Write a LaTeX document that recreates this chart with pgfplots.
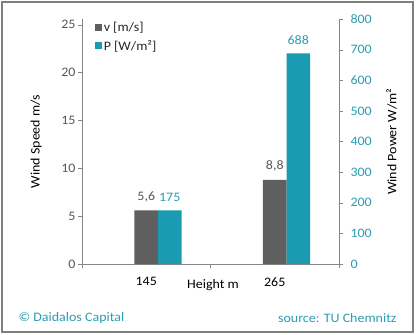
\documentclass[border=0pt]{standalone}
\usepackage{pgfplots}
\pgfplotsset{compat=1.18}
\usepackage{fontspec}
\setmainfont{Carlito}[FakeStretch=1.08]
\definecolor{barg}{HTML}{5F5F5F}
\definecolor{bart}{HTML}{1A9BB2}
\definecolor{tickg}{HTML}{595959}
\definecolor{tickt}{HTML}{2C9DB4}
\definecolor{axg}{HTML}{868686}
\definecolor{frameg}{HTML}{7F7F7F}
\newcommand{\fs}{\fontsize{13}{15}\selectfont}
\pgfplotsset{
  myax/.style={
    at={(82bp,71bp)}, anchor=south west, scale only axis,
    width=257bp, height=245bp,
    xmin=0, xmax=2,
    ybar, bar width=0.183,
    axis line style={axg}, tick style={axg},
    major tick length=4bp, minor tick length=4bp, tick align=outside,
    font=\fs,
    /pgf/number format/assume math mode=true,
    /pgf/number format/use comma,
    nodes near coords,
    clip=false,
  },
  sq/.style={legend image code/.code={\fill[##1] (0bp,-3.5bp) rectangle (7bp,3.5bp);}},
}
\begin{document}
\begin{tikzpicture}[x=1bp,y=1bp]
\useasboundingbox (0,0) rectangle (416,335);
\fill[white] (0,0) rectangle (416,335);
\draw[color=frameg, line width=2bp] (2,3) rectangle (413,333);

\begin{axis}[myax,
  axis y line*=left, axis x line*=bottom,
  ymin=0, ymax=25.6, ytick={0,5,10,15,20,25},
  xtick={0.5,1.5}, xticklabels={145,265},
  major x tick style={draw=none},
  minor xtick={0,1,2},
  yticklabel style={tickg, xshift=1bp},
  xticklabel style={black, yshift=-6bp},
  ylabel={Wind Speed m/s},
  ylabel style={at={(axis description cs:-0.178,0.5)}, anchor=center, black},
  xlabel={Height m},
  xlabel style={at={(axis description cs:0.51,0)}, anchor=base, yshift=-24bp, black},
  every node near coord/.append style={tickg, font=\fs, yshift=5bp},
]
\addplot[fill=barg, draw=none, bar shift=0pt] coordinates {(0.5,5.6) (1.5,8.8)};
\end{axis}

\begin{axis}[myax,
  axis y line*=right, axis x line=none,
  ymin=0, ymax=800, ytick={0,100,...,800},
  xtick=\empty,
  yticklabel style={tickt, xshift=4bp},
  ylabel={Wind Power W/m²},
  ylabel style={at={(axis description cs:1.205,0.5)}, anchor=center, black},
  every node near coord/.append style={tickt, font=\fs, yshift=5bp},
  legend style={at={(axis description cs:0.045,1.0)}, anchor=north west,
    draw=none, fill=none, inner sep=1bp, row sep=3bp,
    font=\fs, text=black!85},
  legend cell align=left,
]
\addlegendimage{sq, fill=barg, draw=none}
\addlegendentry{v [m/s]}
\addplot[fill=bart, draw=none, bar shift=0pt, sq] coordinates {(0.683,175) (1.683,688)};
\addlegendentry{P [W/m²]}
\end{axis}

\node[anchor=west, text=tickt, font=\fs] at (15,17) {© Daidalos Capital};
\node[anchor=east, text=tickt, font=\fs] at (400,17) {source: TU Chemnitz};
\end{tikzpicture}
\end{document}
